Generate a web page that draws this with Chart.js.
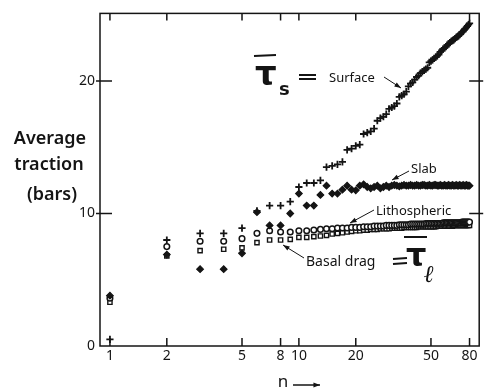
<!DOCTYPE html>
<html>
<head>
<meta charset="utf-8">
<script src="https://cdn.jsdelivr.net/npm/chart.js@4.4.0/dist/chart.umd.min.js"></script>
<style>
  html, body { margin: 0; padding: 0; background: #fff; }
  #wrap { width: 485px; height: 392px; position: relative; }
</style>
</head>
<body>
<div id="wrap"><canvas id="tractionChart"></canvas></div>
<script>
// Average traction (bars) against harmonic degree n
const n = [1, 2, 3, 4, 5, 6, 7, 8, 9, 10,
    11, 12, 13, 14, 15, 16, 17, 18, 19, 20,
    21, 22, 23, 24, 25, 26, 27, 28, 29, 30,
    31, 32, 33, 34, 35, 36, 37, 38, 39, 40,
    41, 42, 43, 44, 45, 46, 47, 48, 49, 50,
    51, 52, 53, 54, 55, 56, 57, 58, 59, 60,
    61, 62, 63, 64, 65, 66, 67, 68, 69, 70,
    71, 72, 73, 74, 75, 76, 77, 78, 79, 80];

const surface = [0.5, 8.0, 8.5, 8.5, 8.9, 10.2, 10.6, 10.6, 10.9, 12.0,
    12.3, 12.3, 12.5, 13.5, 13.6, 13.7, 13.9, 14.8, 14.9, 15.1,
    15.2, 16.0, 16.1, 16.2, 16.4, 17.0, 17.2, 17.3, 17.5, 17.9,
    18.0, 18.1, 18.3, 18.8, 18.9, 19.0, 19.2, 19.6, 19.8, 19.9,
    20.1, 20.3, 20.4, 20.6, 20.7, 20.8, 20.9, 21.0, 21.4, 21.5,
    21.6, 21.7, 21.8, 21.9, 22.0, 22.2, 22.3, 22.4, 22.5, 22.6,
    22.7, 22.8, 22.9, 23.0, 23.05, 23.1, 23.2, 23.3, 23.35, 23.4,
    23.5, 23.6, 23.7, 23.75, 23.85, 23.95, 24.05, 24.15, 24.25, 24.35];

const slab = [3.8, 6.9, 5.8, 5.8, 7.0, 10.1, 9.1, 9.1, 10.0, 11.5,
    10.6, 10.6, 11.4, 12.1, 11.5, 11.5, 11.8, 12.1, 11.8, 11.75,
    12.1, 12.2, 12.0, 11.9, 12.0, 12.1, 11.9, 12.0, 12.1, 12.0,
    12.1, 12.15, 12.1, 12.05, 12.1, 12.15, 12.1, 12.1, 12.15, 12.1,
    12.1, 12.15, 12.1, 12.1, 12.15, 12.15, 12.1, 12.1, 12.15, 12.1,
    12.1, 12.15, 12.15, 12.1, 12.1, 12.15, 12.1, 12.1, 12.15, 12.1,
    12.1, 12.15, 12.1, 12.1, 12.15, 12.1, 12.1, 12.15, 12.1, 12.1,
    12.15, 12.1, 12.1, 12.15, 12.1, 12.1, 12.15, 12.1, 12.1, 12.1];

const lithospheric = [3.6, 7.5, 7.9, 7.9, 8.1, 8.5, 8.7, 8.6, 8.6, 8.7,
    8.7, 8.75, 8.8, 8.85, 8.85, 8.9, 8.9, 8.9, 8.95, 8.95,
    8.95, 9.0, 9.0, 9.0, 9.05, 9.05, 9.05, 9.05, 9.1, 9.1,
    9.1, 9.1, 9.1, 9.15, 9.15, 9.15, 9.15, 9.15, 9.2, 9.2,
    9.2, 9.2, 9.2, 9.2, 9.2, 9.2, 9.25, 9.25, 9.25, 9.25,
    9.25, 9.25, 9.25, 9.25, 9.25, 9.25, 9.25, 9.3, 9.3, 9.3,
    9.3, 9.3, 9.3, 9.3, 9.3, 9.3, 9.3, 9.3, 9.3, 9.3,
    9.3, 9.3, 9.35, 9.35, 9.35, 9.35, 9.35, 9.35, 9.35, 9.35];

const basalDrag = [3.3, 6.8, 7.2, 7.3, 7.4, 7.8, 8.0, 8.0, 8.05, 8.2,
    8.2, 8.25, 8.3, 8.35, 8.45, 8.5, 8.55, 8.6, 8.65, 8.7,
    8.7, 8.75, 8.75, 8.8, 8.8, 8.8, 8.85, 8.85, 8.85, 8.85,
    8.9, 8.9, 8.9, 8.9, 8.9, 8.95, 8.95, 8.95, 8.95, 8.95,
    8.95, 8.95, 9.0, 9.0, 9.0, 9.0, 9.0, 9.0, 9.0, 9.0,
    9.0, 9.0, 9.0, 9.05, 9.05, 9.05, 9.05, 9.05, 9.05, 9.05,
    9.05, 9.05, 9.05, 9.05, 9.05, 9.1, 9.1, 9.1, 9.1, 9.1,
    9.1, 9.1, 9.1, 9.1, 9.1, 9.1, 9.1, 9.1, 9.1, 9.1];

const xTicks = [1, 2, 5, 8, 10, 20, 50, 80];
const yTicks = [0, 10, 20];

const INK = '#141414';

function pairs(ys) {
    return n.map(function (x, i) { return { x: x, y: ys[i] }; });
}

// box round the plot with inward tick marks on all four sides
const frameTicks = {
    id: 'frameTicks',
    afterDatasetsDraw(chart) {
        const ctx = chart.ctx;
        const a = chart.chartArea;
        const xs = chart.scales.x;
        const ys = chart.scales.y;
        ctx.save();
        ctx.strokeStyle = INK;
        ctx.lineWidth = 1.5;
        ctx.strokeRect(a.left, a.top, a.right - a.left, a.bottom - a.top);
        ctx.beginPath();
        xTicks.forEach(function (v) {
            const px = xs.getPixelForValue(v);
            ctx.moveTo(px, a.bottom);
            ctx.lineTo(px, a.bottom - 8);
            ctx.moveTo(px, a.top);
            ctx.lineTo(px, a.top + 7);
        });
        yTicks.slice(1).forEach(function (v) {
            const py = ys.getPixelForValue(v);
            ctx.moveTo(a.left - 4, py);
            ctx.lineTo(a.left + 12, py);
            ctx.moveTo(a.right - 10, py);
            ctx.lineTo(a.right + 4, py);
        });
        ctx.stroke();
        ctx.restore();
    }
};

function arrow(ctx, x1, y1, x2, y2) {
    const ang = Math.atan2(y2 - y1, x2 - x1);
    ctx.beginPath();
    ctx.moveTo(x1, y1);
    ctx.lineTo(x2, y2);
    ctx.stroke();
    ctx.beginPath();
    ctx.moveTo(x2, y2);
    ctx.lineTo(x2 - 7 * Math.cos(ang - 0.35), y2 - 7 * Math.sin(ang - 0.35));
    ctx.lineTo(x2 - 7 * Math.cos(ang + 0.35), y2 - 7 * Math.sin(ang + 0.35));
    ctx.closePath();
    ctx.fill();
}

// axis title and the labels written on the plot
const notes = {
    id: 'notes',
    afterDraw(chart) {
        const ctx = chart.ctx;
        ctx.save();
        ctx.fillStyle = INK;
        ctx.strokeStyle = INK;
        ctx.textBaseline = 'middle';

        ctx.textAlign = 'center';
        ctx.font = '600 18px "Noto Sans", sans-serif';
        ctx.fillText('Average', 50, 139);
        ctx.fillText('traction', 49, 165);
        ctx.fillText('(bars)', 52, 195);

        ctx.font = '17px "Noto Sans", sans-serif';
        ctx.fillText('n', 283, 382);
        ctx.lineWidth = 1.5;
        arrow(ctx, 293, 385, 320, 385);

        ctx.textAlign = 'left';
        ctx.font = '13px "Noto Sans", sans-serif';
        ctx.fillText('Surface', 329, 78);
        ctx.fillText('Slab', 411, 169);
        ctx.fillText('Lithospheric', 376, 211);
        ctx.font = '14px "Noto Sans", sans-serif';
        ctx.fillText('Basal drag', 306, 262);

        ctx.lineWidth = 1;
        arrow(ctx, 384, 77, 401, 88);
        arrow(ctx, 409, 171, 392, 180);
        arrow(ctx, 374, 210, 350, 223);
        arrow(ctx, 304, 258, 283, 245);

        // tau-bar symbols
        ctx.lineWidth = 2.2;
        ctx.font = 'bold 34px "DejaVu Sans", sans-serif';
        ctx.fillText('τ', 255, 76);
        ctx.font = 'bold 18px "DejaVu Sans", sans-serif';
        ctx.fillText('s', 279, 90);
        ctx.beginPath();
        ctx.moveTo(254, 56); ctx.lineTo(276, 55);
        ctx.moveTo(299, 75); ctx.lineTo(316, 75);
        ctx.moveTo(299, 79); ctx.lineTo(316, 79);
        ctx.moveTo(393, 259); ctx.lineTo(407, 258);
        ctx.moveTo(393, 264); ctx.lineTo(407, 263);
        ctx.moveTo(404, 237); ctx.lineTo(427, 237);
        ctx.stroke();
        ctx.font = 'bold 32px "DejaVu Sans", sans-serif';
        ctx.fillText('τ', 406, 258);
        ctx.font = 'bold italic 24px "DejaVu Serif", serif';
        ctx.fillText('ℓ', 424, 276);
        ctx.restore();
    }
};

const config = {
    type: 'scatter',
    data: {
        datasets: [{
            label: 'Surface',
            data: pairs(surface),
            pointStyle: 'cross',
            pointRadius: 3.6,
            borderWidth: 1.8,
            borderColor: INK,
            backgroundColor: INK
        }, {
            label: 'Slab',
            data: pairs(slab),
            pointStyle: 'rectRot',
            pointRadius: 3.3,
            borderWidth: 1.2,
            borderColor: INK,
            backgroundColor: INK
        }, {
            label: 'Lithospheric',
            data: pairs(lithospheric),
            pointStyle: 'circle',
            pointRadius: 2.8,
            borderWidth: 1.5,
            borderColor: INK,
            backgroundColor: '#fff'
        }, {
            label: 'Basal drag',
            data: pairs(basalDrag),
            pointStyle: 'rect',
            pointRadius: 3,
            borderWidth: 1.4,
            borderColor: INK,
            backgroundColor: '#fff'
        }]
    },
    options: {
        responsive: true,
        maintainAspectRatio: false,
        animation: false,
        layout: { padding: { top: 10, right: 4, left: 0, bottom: 0 } },
        scales: {
            x: {
                type: 'logarithmic',
                min: 0.886,
                max: 90,
                afterBuildTicks: function (scale) {
                    scale.ticks = xTicks.map(function (v) { return { value: v }; });
                },
                afterFit: function (scale) { scale.height = 46; },
                grid: { display: false, drawTicks: false },
                border: { display: false },
                ticks: {
                    autoSkip: false,
                    maxRotation: 0,
                    padding: 2,
                    color: INK,
                    font: { size: 14, family: '"Noto Sans", sans-serif' },
                    callback: function (v) { return String(v); }
                }
            },
            y: {
                min: 0,
                max: 25.1,
                afterBuildTicks: function (scale) {
                    scale.ticks = yTicks.map(function (v) { return { value: v }; });
                },
                afterFit: function (scale) { scale.width = 100; },
                grid: { display: false, drawTicks: false },
                border: { display: false },
                ticks: {
                    padding: 5,
                    color: INK,
                    font: { size: 14, family: '"Noto Sans", sans-serif' }
                }
            }
        },
        plugins: {
            legend: { display: false },
            tooltip: { enabled: false }
        }
    },
    plugins: [frameTicks, notes]
};

const tractionChart = new Chart(document.getElementById('tractionChart'), config);
</script>
</body>
</html>
